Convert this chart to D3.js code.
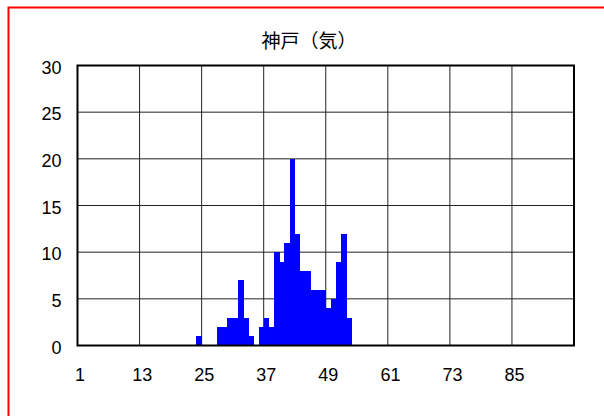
<!DOCTYPE html>
<html>
<head>
<meta charset="utf-8">
<script src="https://cdn.jsdelivr.net/npm/d3@7"></script>
<style>
  body { margin: 0; background: #fff; }
  text { font-family: "Liberation Sans", Arial, sans-serif; fill: #000; }
</style>
</head>
<body>
<div class="panel"></div>
<script>
const width = 604;
const height = 416;
const margins = {top: 65.5, right: 30, bottom: 70.5, left: 77.5};

const title = "神戸（気）";
// bins 1..96, count per bin
const bins = d3.range(1, 97);
const counts = [
  0, 0, 0, 0, 0, 0, 0, 0, 0, 0, 0, 0,
  0, 0, 0, 0, 0, 0, 0, 0, 0, 0, 0, 1,
  0, 0, 0, 2, 2, 3, 3, 7, 3, 1, 0, 2,
  3, 2, 10, 9, 11, 20, 12, 8, 8, 6, 6, 6,
  4, 5, 9, 12, 3, 0, 0, 0, 0, 0, 0, 0,
  0, 0, 0, 0, 0, 0, 0, 0, 0, 0, 0, 0,
  0, 0, 0, 0, 0, 0, 0, 0, 0, 0, 0, 0,
  0, 0, 0, 0, 0, 0, 0, 0, 0, 0, 0, 0
];
const xTicks = [1, 13, 25, 37, 49, 61, 73, 85];
const yTicks = [0, 5, 10, 15, 20, 25, 30];

const svg = d3.select(".panel")
  .append("svg")
  .attr("width", width)
  .attr("height", height);

// red frame, runs off the right and bottom edges
svg.append("rect")
  .attr("x", 8.5).attr("y", 7.5)
  .attr("width", width).attr("height", height)
  .attr("fill", "none")
  .attr("stroke", "#ff0000")
  .attr("stroke-width", 2);

const x = d3.scaleBand()
  .domain(bins)
  .range([margins.left, 574])
  .padding(0);

const y = d3.scaleLinear()
  .domain([0, 30])
  .range([345.5, margins.top]);

// grid
svg.append("g")
  .selectAll("line")
  .data(yTicks.slice(1, -1))
  .enter()
  .append("line")
  .attr("x1", margins.left).attr("x2", 574)
  .attr("y1", d => y(d)).attr("y2", d => y(d))
  .attr("stroke", "#222").attr("stroke-width", 1);

svg.append("g")
  .selectAll("line")
  .data(xTicks.slice(1))
  .enter()
  .append("line")
  .attr("x1", d => x(d)).attr("x2", d => x(d))
  .attr("y1", y(30)).attr("y2", y(0))
  .attr("stroke", "#222").attr("stroke-width", 1);

// bars
svg.append("g")
  .attr("shape-rendering", "crispEdges")
  .selectAll("rect")
  .data(bins.filter((b, i) => counts[i] > 0))
  .enter()
  .append("rect")
  .attr("x", d => x(d))
  .attr("width", x.bandwidth() + 0.6)
  .attr("y", d => y(counts[d - 1]))
  .attr("height", d => y(0) - y(counts[d - 1]))
  .attr("fill", "#0000ff");

// plot frame
svg.append("rect")
  .attr("x", margins.left).attr("y", y(30))
  .attr("width", 574 - margins.left).attr("height", y(0) - y(30))
  .attr("fill", "none")
  .attr("stroke", "#000")
  .attr("stroke-width", 2);

// axes
const xAxis = d3.axisBottom(x).tickValues(xTicks).tickSize(0).tickPadding(23);
svg.append("g")
  .attr("transform", `translate(0, ${y(0)})`)
  .call(xAxis)
  .call(g => g.select(".domain").remove())
  .selectAll("text")
  .style("font-size", "18px");

const yAxis = d3.axisLeft(y).tickValues(yTicks).tickSize(0).tickPadding(16);
svg.append("g")
  .attr("transform", `translate(${margins.left}, 0)`)
  .call(yAxis)
  .call(g => g.select(".domain").remove())
  .selectAll("text")
  .attr("dy", "0.42em")
  .style("font-size", "18px");

svg.append("text")
  .attr("x", 309)
  .attr("y", 48)
  .attr("text-anchor", "middle")
  .style("font-family", "'Noto Sans CJK JP', sans-serif")
  .style("font-size", "19px")
  .text(title);
</script>
</body>
</html>
